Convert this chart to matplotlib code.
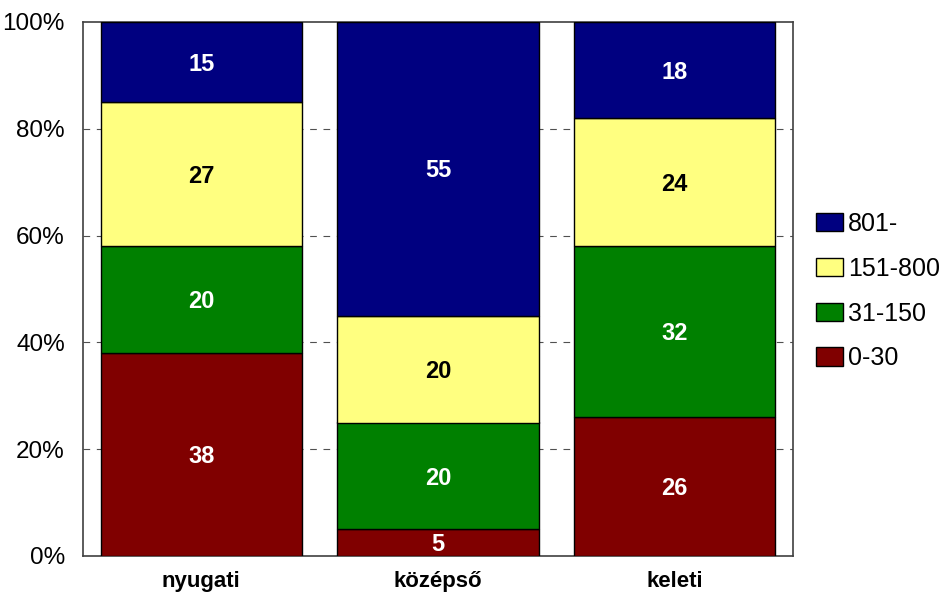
import matplotlib
matplotlib.use("Agg")
import matplotlib.pyplot as plt
from matplotlib import font_manager
import numpy as np

categories = ["nyugati", "középső", "keleti"]
series_names = ["0-30", "31-150", "151-800", "801-"]
v_0_30 = [38, 5, 26]
v_31_150 = [20, 20, 32]
v_151_800 = [27, 20, 24]
v_801 = [15, 55, 18]
colors = ["#800000", "#008000", "#FFFF80", "#000080"]
text_colors = ["white", "white", "black", "white"]
yticklabels = ["0%", "20%", "40%", "60%", "80%", "100%"]

names = {f.name for f in font_manager.fontManager.ttflist}
fam = ["Liberation Sans Narrow", "Liberation Sans", "DejaVu Sans"]
fam = [f for f in fam if f in names] + ["DejaVu Sans"]
plt.rcParams["font.family"] = fam

fig = plt.figure(figsize=(9.41, 5.93), dpi=100)
ax = fig.add_axes([83 / 941, 1 - 556 / 593, 710 / 941, 534 / 593])

data = [v_0_30, v_31_150, v_151_800, v_801]
x = np.arange(len(categories))
bottom = np.zeros(len(categories))
handles = []
for vals, name, c, tc in zip(data, series_names, colors, text_colors):
    vals = np.array(vals, dtype=float)
    b = ax.bar(x, vals, 0.85, bottom=bottom, color=c, edgecolor="black",
               linewidth=1.0, label=name, zorder=3)
    handles.append(b)
    for xi, v, bt in zip(x, vals, bottom):
        ax.text(xi, bt + v / 2 - 0.4, f"{int(v)}", ha="center", va="center",
                color=tc, fontsize=17, fontweight="bold", zorder=4)
    bottom += vals

ax.set_xlim(-0.5, 2.5)
ax.set_ylim(0, 100)
ax.set_yticks([0, 20, 40, 60, 80, 100])
ax.set_yticklabels(yticklabels, fontsize=17.5)
ax.set_xticks(x)
ax.set_xticklabels(categories, fontsize=16, fontweight="bold")
ax.tick_params(axis="y", length=0, pad=13)
ax.tick_params(axis="x", length=0, pad=11)
for yv in [20, 40, 60, 80]:
    ax.axhline(yv, color="#505050", linestyle=(0, (6, 6)), linewidth=0.8, zorder=1)
for s in ax.spines.values():
    s.set_color("#404040")
    s.set_linewidth(1.2)

leg = ax.legend(handles=handles[::-1], labels=series_names[::-1],
                loc="center left", bbox_to_anchor=(1.032, 0.496), frameon=False,
                fontsize=18, handlelength=1.1, handleheight=0.75,
                handletextpad=0.2, labelspacing=0.83, borderaxespad=0,
                borderpad=0)

fig.savefig("out.png", dpi=100)
